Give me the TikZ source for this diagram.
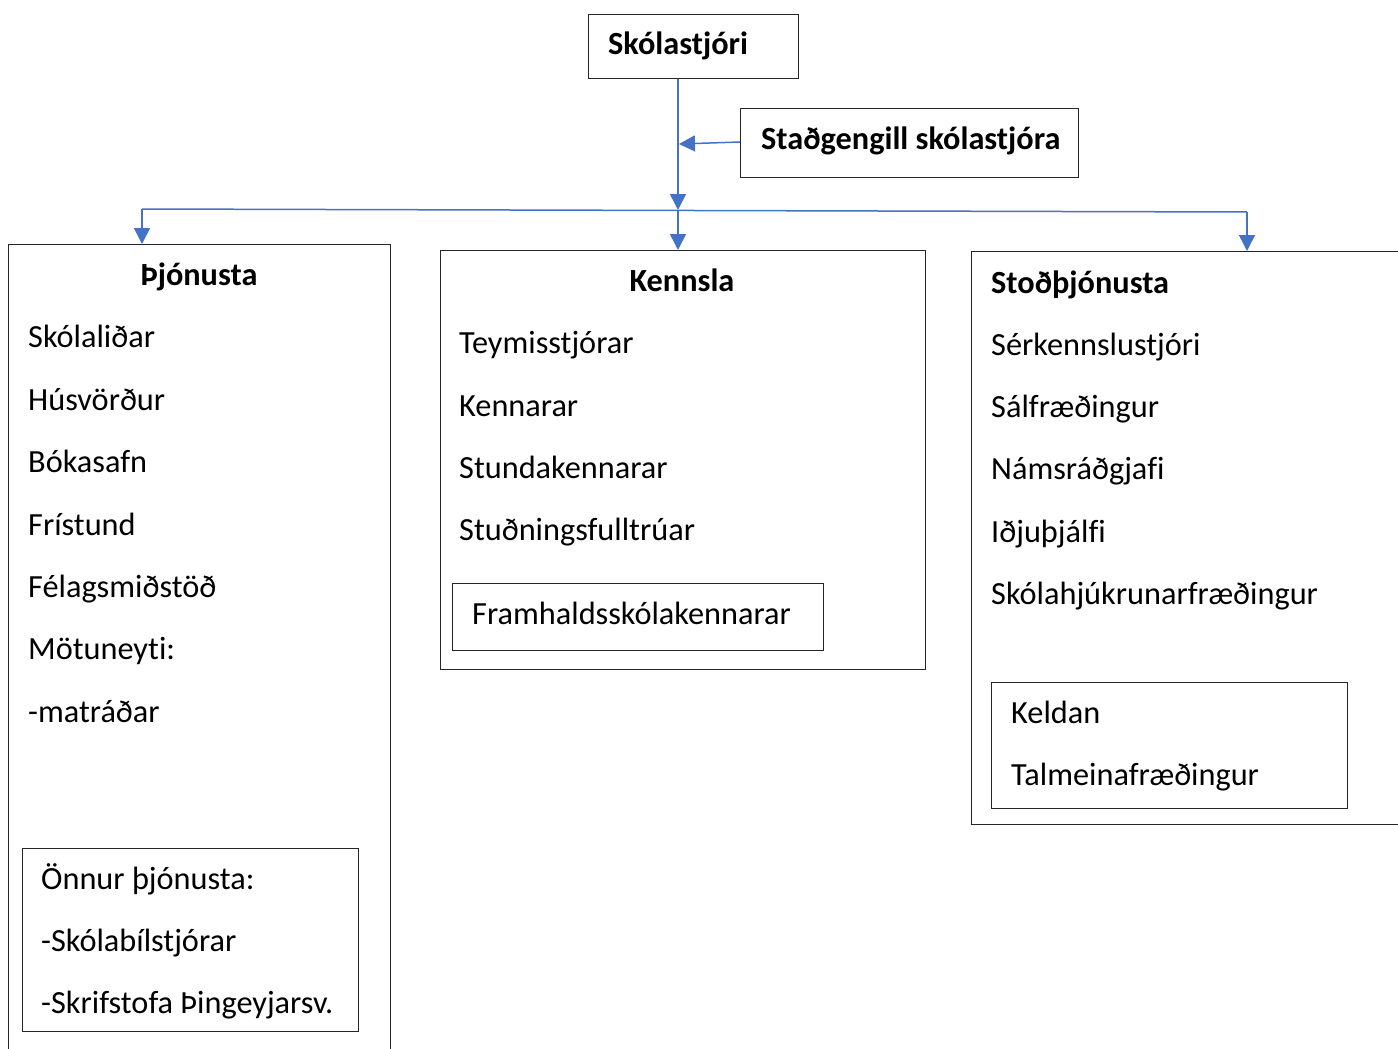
\documentclass[tikz,border=0pt]{standalone}
\usepackage{fontspec}
\setmainfont{Carlito}[Ligatures=NoCommon]
\usetikzlibrary{arrows.meta}
\definecolor{conn}{HTML}{4472C4}
\begin{document}
\begin{tikzpicture}[x=1pt,y=-1pt,
  boxst/.style={draw=black!85,line width=1.3pt,rectangle,anchor=north west,inner sep=0pt},
  lbl/.style={anchor=base west,inner sep=0pt,font=\fontsize{32.3}{38}\selectfont},
  hdr/.style={anchor=base west,inner sep=0pt,font=\fontsize{32.3}{38}\selectfont\bfseries},
  conline/.style={draw=conn,line width=1.5pt},
  arr/.style={conline,-{Triangle[length=16pt,width=16pt]}}]
\useasboundingbox (0,0) rectangle (1398,1049);
\clip (0,0) rectangle (1398,1049);
% top boxes
\node[boxst,minimum width=210pt,minimum height=64pt] (sk) at (588,14) {};
\node[hdr] (skt) at (608,55) {Skólastjóri};
\node[boxst,minimum width=338pt,minimum height=69pt] (st) at (740,108) {};
\node[hdr] (stt) at (761,149) {Staðgengill skólastjóra};
% main boxes
\node[boxst,minimum width=382pt,minimum height=900pt] (thj) at (8,244) {};
\node[boxst,minimum width=485pt,minimum height=419pt] (ken) at (440,250) {};
\node[boxst,minimum width=500pt,minimum height=573pt] (sto) at (971,251) {};
% inner boxes
\node[boxst,minimum width=336pt,minimum height=183pt] (onn) at (22,848) {};
\node[boxst,minimum width=371pt,minimum height=67pt] (fra) at (452,583) {};
\node[boxst,minimum width=356pt,minimum height=126pt] (kel) at (991,682) {};
% texts: Þjónusta
\node[hdr,anchor=base] (h1) at (199,285) {Þjónusta};
\node[lbl] (a1) at (28,347) {Skólaliðar};
\node[lbl] (a2) at (28,410) {Húsvörður};
\node[lbl] (a3) at (28,472) {Bókasafn};
\node[lbl] (a4) at (28,535) {Frístund};
\node[lbl] (a5) at (28,597) {Félagsmiðstöð};
\node[lbl] (a6) at (28,659) {Mötuneyti:};
\node[lbl] (a7) at (28,722) {-matráðar};
\node[lbl] (o1) at (41,889) {Önnur þjónusta:};
\node[lbl] (o2) at (41,951) {-Skólabílstjórar};
\node[lbl] (o3) at (41,1013) {-Skrifstofa Þingeyjarsv.};
% Kennsla
\node[hdr,anchor=base] (h2) at (682,291) {Kennsla};
\node[lbl] (b1) at (459,353) {Teymisstjórar};
\node[lbl] (b2) at (459,416) {Kennarar};
\node[lbl] (b3) at (459,478) {Stundakennarar};
\node[lbl] (b4) at (459,540) {Stuðningsfulltrúar};
\node[lbl] (f1) at (472,624) {Framhaldsskólakennarar};
% Stoðþjónusta
\node[hdr] (h3) at (991,293) {Stoðþjónusta};
\node[lbl] (c1) at (991,355) {Sérkennslustjóri};
\node[lbl] (c2) at (991,417) {Sálfræðingur};
\node[lbl] (c3) at (991,479) {Námsráðgjafi};
\node[lbl] (c4) at (991,542) {Iðjuþjálfi};
\node[lbl] (c5) at (991,604) {Skólahjúkrunarfræðingur};
\node[lbl] (k1) at (1011,723) {Keldan};
\node[lbl] (k2) at (1011,785) {Talmeinafræðingur};
% connectors
\coordinate (bus) at (678,210);
\coordinate (busL) at (142,209);
\coordinate (busR) at (1247,212);
\coordinate (stin) at (679,144);
\draw[arr] (sk.south -| bus) -- (bus);
\draw[arr] (bus) -- (bus |- ken.north);
\draw[arr] (st.west |- 0,142) -- (stin);
\draw[conline] (busL) -- (busR);
\draw[arr] (busL) -- (busL |- thj.north);
\draw[arr] (busR) -- (busR |- sto.north);
\end{tikzpicture}
\end{document}
